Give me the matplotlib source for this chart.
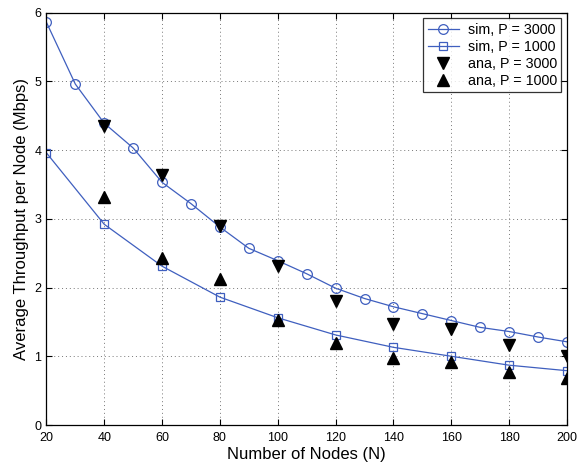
import matplotlib
matplotlib.use("Agg")
import matplotlib.pyplot as plt

plt.rcParams['font.family'] = ['Liberation Sans', 'DejaVu Sans']

# Simulation results
n_sim3000 = [20, 30, 40, 50, 60, 70, 80, 90, 100, 110, 120, 130, 140, 150, 160, 170, 180, 190, 200]
thr_sim3000 = [5.86, 4.96, 4.39, 4.03, 3.53, 3.22, 2.88, 2.57, 2.39, 2.20, 1.99, 1.84, 1.72, 1.62,
               1.52, 1.42, 1.36, 1.28, 1.21]
n_sim1000 = [20, 40, 60, 80, 100, 120, 140, 160, 180, 200]
thr_sim1000 = [3.96, 2.92, 2.31, 1.86, 1.56, 1.31, 1.13, 1.00, 0.87, 0.79]

# Analytical results
n_ana = [40, 60, 80, 100, 120, 140, 160, 180, 200]
thr_ana3000 = [4.35, 3.63, 2.89, 2.31, 1.81, 1.47, 1.39, 1.17, 1.01]
thr_ana1000 = [3.31, 2.43, 2.12, 1.53, 1.19, 0.97, 0.91, 0.77, 0.68]

x_ticks = [20, 40, 60, 80, 100, 120, 140, 160, 180, 200]
y_ticks = [0, 1, 2, 3, 4, 5, 6]

blue = '#3f5fbf'

fig = plt.figure(figsize=(5.87, 4.65), dpi=100)
ax = fig.add_axes([0.079, 0.086, 0.887, 0.887])

ax.plot(n_sim3000, thr_sim3000, '-o', color=blue, lw=0.9, ms=7, mfc='none', mew=0.9,
        label='sim, P = 3000')
ax.plot(n_sim1000, thr_sim1000, '-s', color=blue, lw=0.9, ms=6, mfc='none', mew=0.9,
        label='sim, P = 1000')
ax.plot(n_ana, thr_ana3000, 'v', color='black', ms=8, ls='none', label='ana, P = 3000')
ax.plot(n_ana, thr_ana1000, '^', color='black', ms=8, ls='none', label='ana, P = 1000')

ax.set_xlim(20, 200)
ax.set_ylim(0, 6)
ax.set_xticks(x_ticks)
ax.set_yticks(y_ticks)
ax.tick_params(direction='in', top=True, right=True, labelsize=9, length=4, width=0.8)
ax.tick_params(axis='x', pad=5)
ax.grid(True, linestyle=(0, (1, 3)), color='#777777', lw=0.7)
for s in ax.spines.values():
    s.set_linewidth(0.9)

ax.set_xlabel('Number of Nodes (N)', fontsize=12, labelpad=2)
ax.set_ylabel('Average Throughput per Node (Mbps)', fontsize=12, labelpad=4)

leg = ax.legend(loc='upper right', fontsize=10.3, frameon=True, fancybox=False,
                edgecolor='black', borderpad=0.3, labelspacing=0.22, handlelength=2.2,
                handletextpad=0.6, borderaxespad=0.4)
leg.get_frame().set_linewidth(0.9)

fig.savefig('out.png', dpi=100)
